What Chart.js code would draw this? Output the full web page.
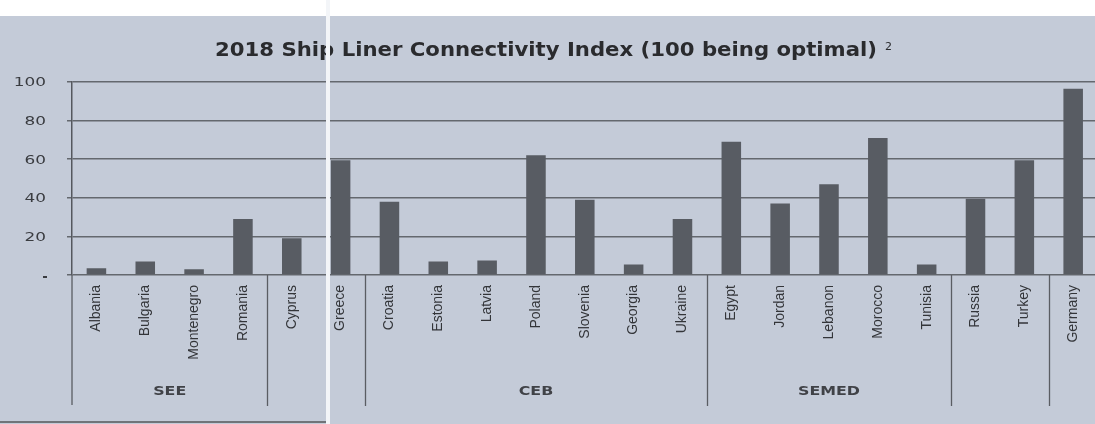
<!DOCTYPE html>
<html>
<head>
<meta charset="utf-8">
<script src="https://cdn.jsdelivr.net/npm/chart.js@4"></script>
<style>
  html, body { margin: 0; padding: 0; overflow: hidden; background: #c4cbd8; }
  #wrap { width: 1100px; height: 424px; position: relative; }
</style>
</head>
<body>
<div id="wrap"><canvas id="lsciChart"></canvas></div>
<script>
// Liner shipping connectivity, 2018 (100 = optimal)
const countries = ['Albania', 'Bulgaria', 'Montenegro', 'Romania', 'Cyprus', 'Greece',
    'Croatia', 'Estonia', 'Latvia', 'Poland', 'Slovenia', 'Georgia', 'Ukraine',
    'Egypt', 'Jordan', 'Lebanon', 'Morocco', 'Tunisia', 'Russia', 'Turkey', 'Germany'];
const lsciValues = [3.5, 7, 3, 29, 19, 59.5,
    38, 7, 7.5, 62, 39, 5.5, 29,
    69, 37, 47, 71, 5.5, 39.5, 59.5, 96.5];
const yTicks = [0, 20, 40, 60, 80, 100];

// region brackets under the axis: [first index, last index, label]
const regions = [[0, 3, 'SEE'], [6, 12, 'CEB'], [13, 17, 'SEMED']];
// separators sit just before these indices
const separators = [4, 6, 13, 18, 20];

const titleText = '2018 Ship Liner Connectivity Index (100 being optimal)';

// draws text stretched sideways by sx (the printed face is a wide one)
function wideText(ctx, text, x, y, sx, align) {
    const w = ctx.measureText(text).width * sx;
    let left = x;
    if (align === 'right') left = x - w;
    if (align === 'center') left = x - w / 2;
    ctx.save();
    ctx.translate(left, y);
    ctx.scale(sx, 1);
    ctx.textAlign = 'left';
    ctx.fillText(text, 0, 0);
    ctx.restore();
    return w;
}

const pagePlugin = {
    id: 'pagePlugin',
    beforeDraw(chart) {
        const ctx = chart.ctx;
        ctx.save();
        ctx.fillStyle = '#c4cbd8';
        ctx.fillRect(0, 0, chart.width, chart.height);
        ctx.fillStyle = '#ffffff';
        ctx.fillRect(0, 0, chart.width, 16);
        ctx.restore();
    },
    afterDraw(chart) {
        const ctx = chart.ctx;
        const x = chart.scales.x;
        const y = chart.scales.y;
        const area = chart.chartArea;
        ctx.save();

        // y tick labels, zero shown as a dash
        ctx.fillStyle = '#3a3c40';
        ctx.font = '13px "DejaVu Sans"';
        ctx.textBaseline = 'middle';
        yTicks.forEach(v => {
            const py = y.getPixelForValue(v);
            if (v === 0) {
                ctx.fillRect(43, py + 1, 4, 2);
            } else {
                wideText(ctx, String(v), 46, py + 1, 1.3, 'right');
            }
        });

        // region separators below the axis
        const step = x.getPixelForTick(1) - x.getPixelForTick(0);
        ctx.strokeStyle = '#5a5d63';
        ctx.lineWidth = 1.3;
        ctx.beginPath();
        ctx.moveTo(area.left, area.bottom);
        ctx.lineTo(area.left, 405);
        separators.forEach(i => {
            const px = Math.round(x.getPixelForTick(i) - step / 2) + 0.5;
            ctx.moveTo(px, area.bottom);
            ctx.lineTo(px, 406);
        });
        ctx.stroke();

        // region names
        ctx.fillStyle = '#404247';
        ctx.font = 'bold 13px "DejaVu Sans"';
        ctx.textBaseline = 'middle';
        regions.forEach(([a, b, name]) => {
            const cx = (x.getPixelForTick(a) + x.getPixelForTick(b)) / 2;
            wideText(ctx, name, cx, 392, 1.22, 'center');
        });

        // title, stretched across its span
        ctx.fillStyle = '#2a2b2e';
        ctx.font = 'bold 19px "DejaVu Sans"';
        ctx.textBaseline = 'alphabetic';
        const baseW = ctx.measureText(titleText).width;
        const tw = wideText(ctx, titleText, 215, 56, 662 / baseW, 'left');
        ctx.font = '11px "DejaVu Sans"';
        ctx.fillText('2', 215 + tw + 8, 50);

        // pale crease through the sheet
        ctx.fillStyle = '#f3f5f8';
        ctx.fillRect(326, 0, 4, chart.height);

        // dark edge at the bottom left of the sheet
        ctx.fillStyle = '#707479';
        ctx.fillRect(0, 421, 326, 2);
        ctx.restore();
    }
};

new Chart(document.getElementById('lsciChart'), {
    type: 'bar',
    data: {
        labels: countries,
        datasets: [{
            label: 'LSCI 2018',
            data: lsciValues,
            backgroundColor: '#585c63',
            borderWidth: 0,
            barPercentage: 0.4,
            categoryPercentage: 1
        }]
    },
    options: {
        responsive: true,
        maintainAspectRatio: false,
        animation: false,
        layout: { padding: { left: 0, top: 82, right: 1, bottom: 0 } },
        plugins: {
            legend: { display: false },
            title: { display: false },
            tooltip: { enabled: false }
        },
        scales: {
            x: {
                offset: true,
                grid: { display: false, drawTicks: false },
                border: { display: false },
                ticks: {
                    autoSkip: false,
                    minRotation: 90,
                    maxRotation: 90,
                    padding: 10,
                    color: '#333539',
                    font: { family: "'Liberation Sans Narrow', 'Liberation Sans'", size: 14 }
                },
                afterFit(scale) { scale.height = 149; }
            },
            y: {
                min: 0,
                max: 100,
                afterBuildTicks(scale) { scale.ticks = yTicks.map(v => ({ value: v })); },
                grid: { color: '#64686e', lineWidth: 1.5, tickLength: 5 },
                border: { display: true, color: '#55585e', width: 1.5 },
                ticks: { display: false },
                afterFit(scale) { scale.width = 72; }
            }
        }
    },
    plugins: [pagePlugin]
});
</script>
</body>
</html>
